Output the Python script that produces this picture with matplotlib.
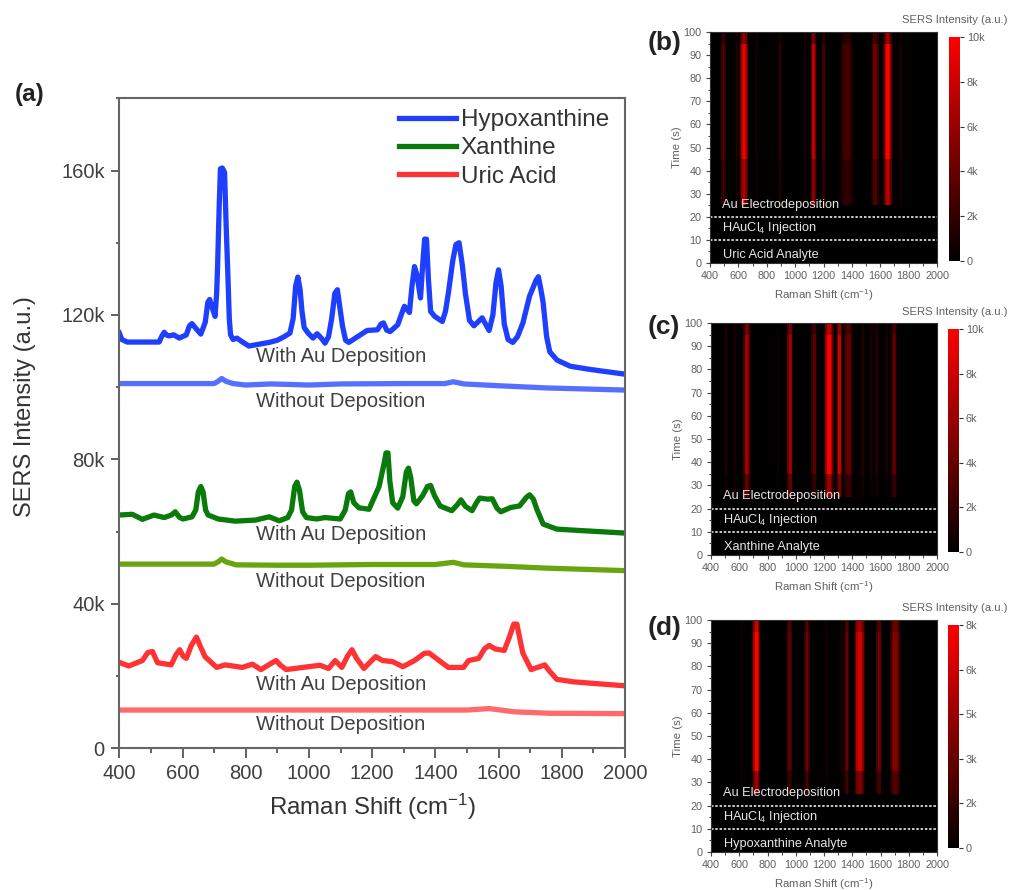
# -*- coding: utf-8 -*-
"""SERS spectra with and without Au deposition, plus time-resolved heat maps."""
import matplotlib
matplotlib.use("Agg")
import matplotlib.pyplot as plt
import numpy as np
from matplotlib.colors import LinearSegmentedColormap
from matplotlib.ticker import MultipleLocator

plt.rcParams["font.family"] = ["Liberation Sans", "DejaVu Sans"]
plt.rcParams["mathtext.default"] = "regular"

W, H = 1009, 890

# spectra as (Raman shift, intensity in thousands)
hypo_au = [(400, 115), (408, 113.2), (425, 112.5), (526, 112.5), (535, 114.2), (542, 115.2), (550, 114.4), (558, 114.2), (572, 114.5), (590, 113.6), (612, 114.5), (622, 117), (630, 117.6), (640, 116.5), (658, 114.7), (672, 118), (680, 123.5), (686, 124.3), (694, 122), (703, 119.6), (708, 126), (711, 133.5), (716, 150), (720, 160.5), (726, 160.7), (733, 159.5), (738, 145), (744, 129.8), (748, 119), (752, 114.5), (760, 113.2), (772, 113.6), (790, 112.5), (810, 111.4), (874, 112.4), (900, 113), (922, 114), (940, 115), (950, 119), (958, 128), (965, 130.5), (972, 127), (978, 121), (985, 116.5), (997, 115), (1013, 113.6), (1026, 114.8), (1040, 113.5), (1051, 112.2), (1062, 114), (1072, 119), (1082, 126), (1090, 127), (1098, 122), (1106, 117), (1116, 113), (1126, 112.4), (1184, 115.7), (1217, 115.9), (1228, 117.5), (1236, 117.8), (1246, 115.8), (1257, 115.4), (1281, 117.3), (1296, 121), (1302, 122.4), (1318, 120.7), (1326, 128), (1334, 133.4), (1342, 131), (1353, 124.7), (1360, 134), (1366, 141), (1372, 141), (1378, 130), (1385, 121), (1398, 119.6), (1422, 118.2), (1432, 121), (1441, 126), (1455, 135), (1465, 139.5), (1475, 140), (1485, 134), (1495, 126), (1508, 118.5), (1522, 117), (1548, 119.2), (1570, 115.7), (1582, 120), (1592, 129), (1600, 132.5), (1608, 128), (1618, 117.5), (1630, 113.2), (1645, 112.4), (1660, 114), (1677, 117.8), (1698, 125.2), (1718, 129.5), (1726, 130.6), (1734, 127), (1741, 123.4), (1752, 114), (1762, 109.8), (1785, 107.5), (1827, 105.8), (1891, 104.9), (2000, 103.6)]
hypo_bare = [(400, 101), (700, 101), (712, 101.6), (724, 102.4), (738, 101.6), (760, 101), (800, 100.6), (880, 100.9), (1000, 100.6), (1100, 100.9), (1300, 101), (1430, 101), (1457, 101.5), (1490, 100.9), (1600, 100.4), (1750, 99.8), (2000, 99.2)]

xan_au = [(400, 64.6), (441, 64.8), (473, 63.4), (510, 64.6), (542, 63.9), (565, 64.6), (577, 65.5), (590, 64), (601, 63.5), (630, 64.1), (642, 66), (650, 71), (658, 72.5), (665, 71), (673, 66), (681, 64.6), (713, 63.5), (767, 62.9), (831, 63.2), (874, 64.1), (906, 63), (933, 63.9), (945, 66), (955, 72.5), (962, 73.7), (970, 71.5), (980, 65.5), (992, 63.9), (1024, 63.5), (1051, 63.9), (1099, 63.5), (1115, 66), (1125, 70.5), (1132, 71), (1142, 68), (1158, 66.6), (1190, 66.2), (1222, 72.5), (1238, 79), (1244, 81.8), (1250, 81.8), (1256, 74), (1265, 68), (1281, 66.5), (1297, 69.7), (1308, 76.5), (1315, 77.6), (1322, 75), (1332, 68.5), (1340, 67.7), (1360, 70), (1375, 72.5), (1385, 72.8), (1397, 70), (1415, 67.1), (1452, 65.8), (1470, 67.5), (1481, 68.8), (1495, 67), (1516, 65.8), (1530, 68), (1540, 69.3), (1565, 69), (1580, 69.1), (1595, 66.5), (1607, 65.5), (1639, 66.7), (1666, 67.1), (1688, 69.5), (1698, 70.2), (1710, 69), (1722, 66), (1741, 62.1), (1784, 60.7), (1859, 60.3), (2000, 59.6)]
xan_bare = [(400, 51), (700, 51), (712, 51.6), (724, 52.4), (738, 51.6), (770, 50.8), (900, 50.7), (1000, 50.7), (1200, 50.9), (1400, 50.9), (1457, 51.5), (1490, 50.8), (1620, 50.4), (1750, 49.9), (2000, 49.2)]

uric_au = [(400, 23.8), (430, 22.8), (473, 24.3), (490, 26.5), (505, 26.8), (521, 23.7), (564, 23.1), (580, 26), (591, 27.3), (602, 25.5), (612, 24.9), (628, 28.5), (644, 30.8), (655, 28.5), (671, 25.4), (708, 22.4), (735, 23.1), (789, 22.4), (821, 23.3), (848, 21.8), (880, 23.5), (896, 24.3), (910, 23), (928, 21.8), (981, 22.4), (1035, 23), (1062, 22.1), (1083, 24.3), (1104, 22.4), (1122, 25.5), (1136, 27.3), (1150, 25), (1174, 22.1), (1195, 24), (1211, 25.4), (1233, 24.3), (1265, 24), (1297, 22.6), (1334, 24.3), (1365, 26.3), (1380, 26.4), (1409, 24.5), (1441, 22.4), (1489, 22.4), (1505, 24.3), (1537, 24.9), (1555, 27.5), (1570, 28.5), (1590, 27.5), (1618, 27.1), (1635, 31), (1648, 34.4), (1658, 34.4), (1668, 30), (1677, 26.3), (1703, 21.8), (1730, 22.6), (1746, 23.1), (1760, 21.5), (1784, 19.1), (1837, 18.4), (2000, 17.3)]
uric_bare = [(400, 10.6), (1500, 10.6), (1570, 11), (1650, 10.1), (1762, 9.7), (2000, 9.6)]

# heat maps: stripe centre, half width, plateau level (thousands)
time_edges = [0, 25, 35, 45, 95, 100]

b_centers = [494, 588, 640, 730, 894, 1070, 1130, 1200, 1365, 1565, 1652, 1741]
b_widths = [18, 15, 32, 15, 15, 15, 24, 18, 55, 32, 34, 15]
b_levels = [3.6, 1.5, 9.5, 0.9, 2, 1.2, 7.5, 2.6, 2.6, 4.2, 10, 1.1]
b_bands = [0, 0.72, 0.72, 1, 0.6]

c_centers = [507, 566, 654, 874, 957, 1128, 1237, 1308, 1372, 1474, 1537, 1573, 1640, 1696]
c_widths = [15, 15, 26, 12, 20, 22, 36, 22, 36, 15, 15, 15, 15, 25]
c_levels = [1.2, 1.2, 6.5, 0.5, 7, 3.5, 10, 8, 4, 1.5, 1.5, 1.5, 1, 3.5]
c_bands = [0, 0.6, 1, 1, 0.75]

d_centers = [619, 721, 955, 1080, 1221, 1327, 1363, 1452, 1587, 1705]
d_widths = [12, 30, 18, 22, 12, 15, 18, 40, 20, 42]
d_levels = [0.8, 8, 3.6, 3.6, 0.7, 1, 3.6, 6.6, 3.8, 4.2]
d_bands = [0, 0.6, 1, 1, 0.78]

cmap_red = LinearSegmentedColormap.from_list("blackred", ["#000000", "#ff0000"])


def px_axes(fig, left, top, right, bottom):
    return fig.add_axes([left / W, 1 - bottom / H, (right - left) / W, (bottom - top) / H])


def draw(ax, pts, color, label=None):
    arr = np.array(pts)
    ax.plot(arr[:, 0], arr[:, 1], color=color, lw=3.8, label=label, solid_joinstyle="round")


def plot_spectra(ax):
    draw(ax, hypo_au, "#1f3fff", "Hypoxanthine")
    draw(ax, xan_au, "#0a7a0a", "Xanthine")
    draw(ax, uric_au, "#ff3333", "Uric Acid")
    draw(ax, hypo_bare, "#5570ff")
    draw(ax, xan_bare, "#6aa510")
    draw(ax, uric_bare, "#ff6a6a")

    notes = [("With Au Deposition", 108.4), ("Without Deposition", 96),
             ("With Au Deposition", 59.1), ("Without Deposition", 46.3),
             ("With Au Deposition", 17.8), ("Without Deposition", 6.5)]
    for text, y in notes:
        ax.text(832, y, text, fontsize=14.5, color="#404040", ha="left", va="center")

    ax.set_xlim(400, 2000)
    ax.set_ylim(0, 180)
    ax.xaxis.set_major_locator(MultipleLocator(200))
    ax.xaxis.set_minor_locator(MultipleLocator(100))
    ax.yaxis.set_minor_locator(MultipleLocator(20))
    ax.set_yticks([0, 40, 80, 120, 160])
    ax.set_yticklabels(["0", "40k", "80k", "120k", "160k"])
    ax.tick_params(axis="x", which="major", length=7, width=1.3, color="#555555", labelsize=14.5, labelcolor="#404040", pad=4.5)
    ax.tick_params(axis="x", which="minor", length=3.5, width=1.3, color="#555555")
    ax.tick_params(axis="y", which="major", length=6, width=1.3, color="#555555", labelsize=14.5, labelcolor="#404040", pad=4.5)
    ax.tick_params(axis="y", which="minor", length=2.5, width=1.3, color="#555555")
    for s in ax.spines.values():
        s.set_linewidth(1.5)
        s.set_color("#666666")
    ax.set_xlabel("Raman Shift (cm$^{-1}$)", fontsize=17.3, color="#333333", labelpad=6)
    ax.set_ylabel("SERS Intensity (a.u.)", fontsize=17, color="#333333")
    ax.yaxis.set_label_coords(-0.165, 0.526)
    ax.legend(loc="upper left", bbox_to_anchor=(0.533, 0.998), frameon=False, fontsize=17.5, handlelength=2.35,
              labelspacing=0.25, handletextpad=0.2, labelcolor="#333333", borderaxespad=0)


def heat_matrix(centers, widths, levels, bands):
    # 10 cm-1 columns, one row per time band
    xc = np.arange(405, 2000, 10)
    z = np.zeros((len(bands), len(xc)))
    for c, w, lv in zip(centers, widths, levels):
        weight = np.clip((w - np.abs(xc - c)) / (0.7 * w), 0, 1)
        column = lv * weight
        for i, f in enumerate(bands):
            z[i] = np.maximum(z[i], column * f)
    return z


def plot_heat(fig, box, cbox, centers, widths, levels, bands, vmax, ticks, ticklabels, analyte, letter, letter_y):
    ax = px_axes(fig, *box)
    x_edges = np.arange(400, 2001, 10)
    z = heat_matrix(centers, widths, levels, bands)
    mesh = ax.pcolormesh(x_edges, time_edges, z, cmap=cmap_red, vmin=0, vmax=vmax, shading="flat")
    ax.set_facecolor("black")
    ax.set_xlim(400, 2000)
    ax.set_ylim(0, 100)
    ax.set_xticks(np.arange(400, 2001, 200))
    ax.xaxis.set_minor_locator(MultipleLocator(100))
    ax.set_yticks(np.arange(0, 101, 10))
    ax.yaxis.set_minor_locator(MultipleLocator(5))
    ax.tick_params(which="major", length=3, width=0.8, color="#444444", labelsize=7.8, labelcolor="#606060", pad=3)
    ax.tick_params(which="minor", length=1.8, width=0.7, color="#444444")
    for s in ax.spines.values():
        s.set_color("#333333")
    ax.set_xlabel("Raman Shift (cm$^{-1}$)", fontsize=8.2, color="#606060", labelpad=4)
    ax.set_ylabel("Time (s)", fontsize=8.2, color="#606060", labelpad=1)

    for y in [10, 20]:
        ax.axhline(y, color="white", lw=1.1, ls=(0, (1.6, 1.2)))
    ax.text(487, 25.3, "Au Electrodeposition", color="#e6e6e6", fontsize=9.2, va="center")
    ax.text(487, 15, "HAuCl$_4$ Injection", color="#e6e6e6", fontsize=9.2, va="center")
    ax.text(490, 3.6, analyte, color="#e6e6e6", fontsize=9.2, va="center")

    cax = px_axes(fig, *cbox)
    cb = fig.colorbar(mesh, cax=cax)
    cb.set_ticks(ticks)
    cb.set_ticklabels(ticklabels)
    cb.ax.tick_params(length=3, width=0.8, color="#333333", labelsize=7.8, labelcolor="#606060", pad=2)
    cb.outline.set_visible(False)
    fig.text(1008 / W, 1 - (cbox[1] - 17) / H, "SERS Intensity (a.u.)", fontsize=8.1, color="#606060", ha="right", va="center")
    fig.text(648 / W, 1 - letter_y / H, letter, fontsize=19, fontweight="bold", color="#222222", va="center")


def main():
    fig = plt.figure(figsize=(W / 100, H / 100), dpi=100)
    ax = px_axes(fig, 119.3, 98.3, 625, 748.3)
    plot_spectra(ax)
    fig.text(15 / W, 1 - 95 / H, "(a)", fontsize=17.5, fontweight="bold", color="#222222", va="center")

    plot_heat(fig, (710, 32, 937, 263), (949, 37, 960, 261), b_centers, b_widths, b_levels, b_bands,
              10, [0, 2, 4, 6, 8, 10], ["0", "2k", "4k", "6k", "8k", "10k"], "Uric Acid Analyte", "(b)", 43)
    plot_heat(fig, (711, 323, 937, 555), (948, 329, 959, 552), c_centers, c_widths, c_levels, c_bands,
              10, [0, 2, 4, 6, 8, 10], ["0", "2k", "4k", "6k", "8k", "10k"], "Xanthine Analyte", "(c)", 327)
    plot_heat(fig, (711, 620, 937, 852), (948, 625, 959, 848), d_centers, d_widths, d_levels, d_bands,
              8, [0, 1.6, 3.2, 4.8, 6.4, 8], ["0", "2k", "3k", "5k", "6k", "8k"], "Hypoxanthine Analyte", "(d)", 628)

    fig.savefig("out.png", dpi=100)
    plt.close(fig)


if __name__ == "__main__":
    main()
